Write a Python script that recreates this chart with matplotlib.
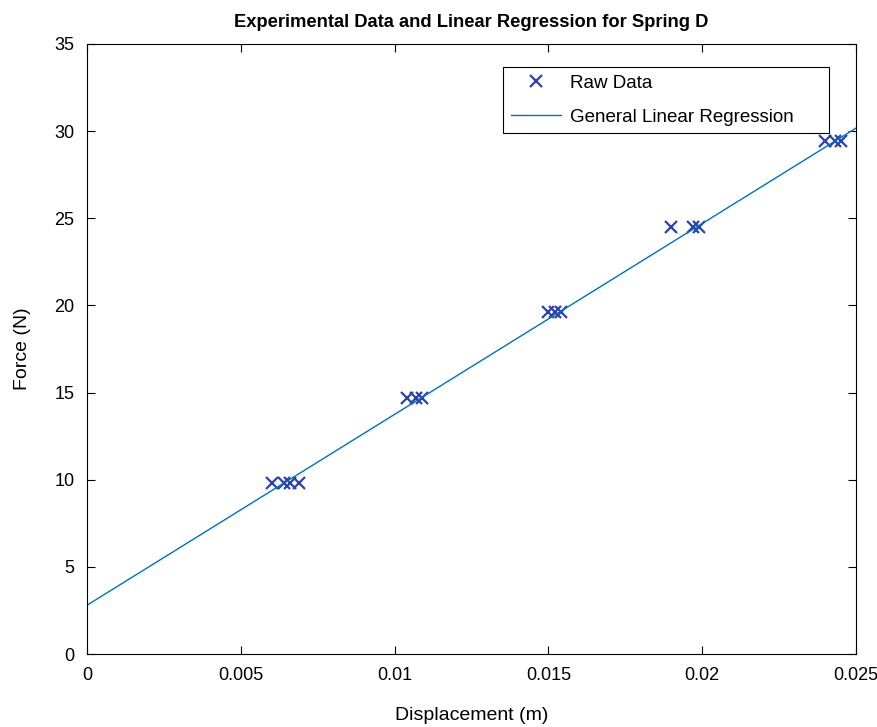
import matplotlib

matplotlib.use("Agg")
import matplotlib.pyplot as plt
from matplotlib.patches import Rectangle
import numpy as np

plt.rcParams["font.family"] = ["Liberation Sans", "DejaVu Sans"]

# measured spring displacements (m) and applied loads (N)
displacement = [
    0.0060, 0.0064, 0.0066, 0.0069,
    0.0104, 0.0107, 0.0109,
    0.0150, 0.0152, 0.0154,
    0.0190, 0.0197, 0.0199,
    0.0240, 0.0243, 0.0245,
]
force = [
    9.81, 9.81, 9.81, 9.81,
    14.715, 14.715, 14.715,
    19.62, 19.62, 19.62,
    24.525, 24.525, 24.525,
    29.43, 29.43, 29.43,
]

# fitted line: F = slope * x + intercept
fit_slope = 1095.0
fit_intercept = 2.8

fig = plt.figure(figsize=(8.78, 7.27), dpi=100)
ax = fig.add_axes([0.0991, 0.1004, 0.8759, 0.8391])

ax.plot(displacement, force, linestyle="none", marker="x", markersize=8.5,
        markeredgewidth=1.6, color="#2f42a8", label="Raw Data")

xfit = np.array([0.0, 0.025])
ax.plot(xfit, fit_slope * xfit + fit_intercept, color="#0072bd", linewidth=1.0,
        label="General Linear Regression")

ax.set_xlim(0, 0.025)
ax.set_ylim(0, 35)
ax.set_xticks([0, 0.005, 0.01, 0.015, 0.02, 0.025])
ax.set_xticklabels(["0", "0.005", "0.01", "0.015", "0.02", "0.025"])
ax.set_yticks(range(0, 36, 5))
ax.tick_params(direction="in", top=True, right=True, labelsize=13, length=6, pad=9)
for s in ax.spines.values():
    s.set_linewidth(0.8)

ax.set_xlabel("Displacement (m)", fontsize=14, labelpad=17)
ax.set_ylabel("Force (N)", fontsize=14, labelpad=17)
ax.set_title("Experimental Data and Linear Regression for Spring D",
             fontsize=13.2, fontweight="bold", pad=12)

# legend box drawn separately so its width can be set freely
ax.add_patch(Rectangle((0.541, 0.854), 0.424, 0.1083, transform=ax.transAxes,
                       facecolor="white", edgecolor="black", linewidth=0.8,
                       zorder=4))
ax.legend(loc="upper left", bbox_to_anchor=(0.541, 0.9623), fontsize=13.5,
          frameon=False, handlelength=2.7, handletextpad=0.45,
          borderpad=0.4, borderaxespad=0, labelspacing=0.9).set_zorder(5)

fig.savefig("out.png", dpi=100)
